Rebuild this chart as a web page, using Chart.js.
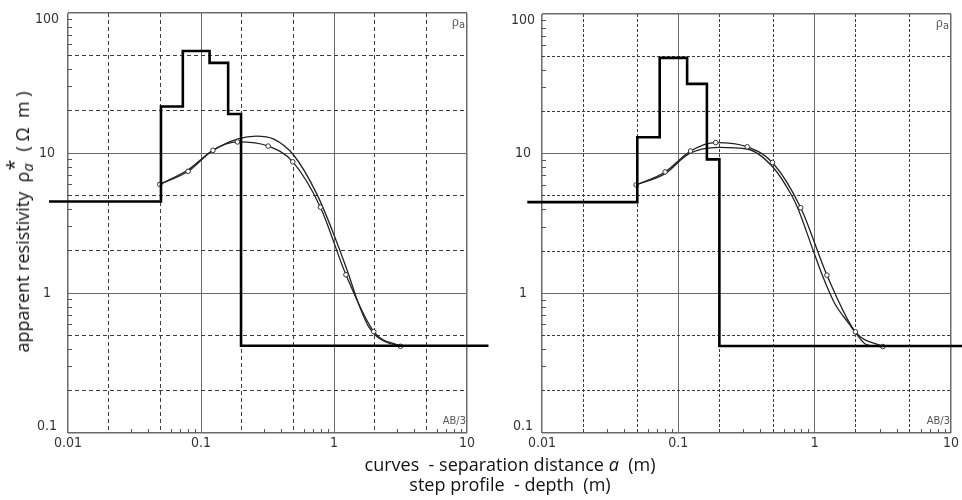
<!DOCTYPE html>
<html>
<head>
<meta charset="utf-8">
<script src="https://cdn.jsdelivr.net/npm/chart.js@4.4.1/dist/chart.umd.min.js"></script>
<style>
  body { margin: 0; background: #fff; }
  #wrap { position: relative; width: 962px; height: 500px; overflow: hidden; font-family: "Open Sans", sans-serif; color: #111; }
  #left-box { position: absolute; left: 0; top: 0; width: 500px; height: 500px; }
  #right-box { position: absolute; left: 480px; top: 0; width: 482px; height: 500px; }
  #y-title { position: absolute; left: 22px; top: 222px; transform: translate(-50%, -50%) rotate(-90deg); white-space: nowrap; font-size: 18px; }
  .sx { display: inline-block; position: relative; width: 0.6em; }
  .sx .sup { position: absolute; left: 0.05em; top: -0.5em; font-size: 1.1em; }
  .sx .sb { position: relative; top: 0.3em; font-style: italic; font-size: 0.8em; }
  .x-title { position: absolute; left: 510px; transform: translateX(-50%); white-space: nowrap; font-size: 18px; }
  #x-title-1 { top: 452px; }
  #x-title-2 { top: 472px; }
</style>
</head>
<body>
<div id="wrap">
  <div id="left-box"><canvas id="left-chart" width="500" height="500"></canvas></div>
  <div id="right-box"><canvas id="right-chart" width="482" height="500"></canvas></div>
  <div id="y-title">apparent resistivity&nbsp; ρ<span class="sx"><span class="sup">*</span><span class="sb">a</span></span>&nbsp; ( Ω&nbsp; m )</div>
  <div class="x-title" id="x-title-1">curves&nbsp; - separation distance <i>a</i>&nbsp; (m)</div>
  <div class="x-title" id="x-title-2">step profile&nbsp; - depth&nbsp; (m)</div>
</div>
<script>
// grid / tick positions
const xGridValues = [0.01, 0.02, 0.05, 0.1, 0.2, 0.5, 1, 2, 5, 10];
const yGridValues = [0.1, 0.2, 0.5, 1, 2, 5, 10, 20, 50, 100];
const minorMultiples = [3, 4, 6, 7, 8, 9];

// measured apparent resistivity (same field data in both panels)
const measuredA = [0.049, 0.08, 0.123, 0.188, 0.32, 0.49, 0.79, 1.23, 1.99, 3.16];
const measuredRho = [5.97, 7.4, 10.45, 12.0, 11.2, 8.65, 4.1, 1.35, 0.53, 0.416];

// left panel: model curve + step profile
const leftModelA = [0.049, 0.08, 0.12, 0.19, 0.26, 0.35, 0.5, 0.75, 1.0, 1.29, 1.5, 1.83, 2.4, 3.3];
const leftModelRho = [5.97, 7.6, 10.3, 12.6, 13.2, 12.6, 9.6, 5.0, 2.6, 1.35, 0.88, 0.57, 0.45, 0.42];
const leftStepDepth = [0.0072, 0.05, 0.073, 0.116, 0.16, 0.2, 14.5];
const leftStepRho = [4.5, 21.5, 53.5, 44, 19, 0.42, 0.42];

// right panel: model curve + step profile
const rightModelA = [0.049, 0.08, 0.12, 0.2, 0.32, 0.5, 0.68, 0.75, 0.98, 1.14, 1.4, 1.8, 2.0, 2.4, 3.3];
const rightModelRho = [5.97, 7.2, 10.0, 11.1, 10.8, 7.9, 5.0, 4.1, 2.0, 1.34, 0.85, 0.6, 0.52, 0.43, 0.415];
const rightStepDepth = [0.0078, 0.05, 0.073, 0.116, 0.162, 0.2, 12.2];
const rightStepRho = [4.5, 13.1, 48.5, 31.6, 9.1, 0.42, 0.42];

const toPoints = (xs, ys) => xs.map((x, i) => ({ x: x, y: ys[i] }));
const isDecade = v => Math.abs(Math.log10(v) - Math.round(Math.log10(v))) < 1e-6;

// inner minor ticks on bottom and left axes
const minorTicks = {
  id: 'minorTicks',
  beforeDatasetsDraw(chart) {
    const { ctx, chartArea, scales } = chart;
    ctx.save();
    ctx.strokeStyle = '#555';
    ctx.lineWidth = 1;
    ctx.beginPath();
    [0.01, 0.1, 1].forEach(d => minorMultiples.forEach(m => {
      const px = Math.round(scales.x.getPixelForValue(d * m)) + 0.5;
      ctx.moveTo(px, chartArea.bottom);
      ctx.lineTo(px, chartArea.bottom - 4);
    }));
    [0.1, 1, 10].forEach(d => minorMultiples.forEach(m => {
      const py = Math.round(scales.y.getPixelForValue(d * m)) + 0.5;
      ctx.moveTo(chartArea.left, py);
      ctx.lineTo(chartArea.left + 4, py);
    }));
    ctx.stroke();
    ctx.restore();
  }
};

// corner notes: rho_a and AB/3
const cornerNotes = {
  id: 'cornerNotes',
  afterDraw(chart) {
    const { ctx, chartArea } = chart;
    ctx.save();
    ctx.fillStyle = '#555';
    ctx.textAlign = 'right';
    ctx.textBaseline = 'middle';
    ctx.font = '11px "Liberation Sans Narrow", "DejaVu Sans Condensed", sans-serif';
    ctx.fillText('a', chartArea.right - 2, chartArea.top + 12);
    const aw = ctx.measureText('a').width;
    ctx.font = '12px "Liberation Sans", sans-serif';
    ctx.fillText('ρ', chartArea.right - 2 - aw, chartArea.top + 10);
    ctx.font = '11px "Liberation Sans Narrow", "DejaVu Sans Condensed", sans-serif';
    ctx.fillText('AB/3', chartArea.right - 1, chartArea.bottom - 12);
    ctx.restore();
  }
};

// edge labels are nudged inside the frame like in the original print
function tickLabel(v, min, max, axis) {
  if (!isDecade(v)) return '';
  const s = String(v);
  if (axis === 'y' && v === max) return ['', s];
  if (axis === 'y' && v === min) return [s, ''];
  return s;
}

function makeScale(axis, min, max, gridValues, opts) {
  return {
    type: 'logarithmic',
    min: min,
    max: max,
    afterBuildTicks: scale => { scale.ticks = gridValues.map(v => ({ value: v })); },
    afterFit: scale => {
      if (opts.width) scale.width = opts.width;
      if (opts.height) scale.height = opts.height;
      // keep the plot frame where layout.padding puts it
      scale.paddingTop = 0; scale.paddingBottom = 0;
      scale.paddingLeft = 0; scale.paddingRight = 0;
    },
    ticks: {
      autoSkip: false,
      maxRotation: 0,
      padding: opts.padding,
      crossAlign: 'center',
      color: '#333',
      font: { family: '"Liberation Sans Narrow", "DejaVu Sans Condensed", sans-serif', size: 14, lineHeight: 0.9 },
      callback: v => tickLabel(v, min, max, axis)
    },
    grid: {
      drawTicks: false,
      color: ctx => (ctx.tick && isDecade(ctx.tick.value)) ? '#6a6a6a' : '#3c3c3c',
      lineWidth: ctx => {
        if (!ctx.tick) return 1;
        if (ctx.tick.value === min || ctx.tick.value === max) return 1.5;
        return 1;
      }
    },
    border: {
      display: false,
      dash: ctx => (ctx.tick && !isDecade(ctx.tick.value)) ? opts.dash : []
    }
  };
}

function drawPanel(canvasId, modelA, modelRho, stepDepth, stepRho, layout) {
  const ctx = document.getElementById(canvasId).getContext('2d');
  return new Chart(ctx, {
    type: 'line',
    data: {
      datasets: [
        {
          data: toPoints(stepDepth, stepRho),
          borderColor: '#000',
          borderWidth: 2.6,
          stepped: 'before',
          pointRadius: 0,
          clip: false
        },
        {
          data: toPoints(measuredA, measuredRho),
          borderColor: '#222',
          borderWidth: 1.3,
          cubicInterpolationMode: 'monotone',
          pointRadius: 2.3,
          pointBackgroundColor: '#fff',
          pointBorderColor: '#333',
          pointBorderWidth: 1
        },
        {
          data: toPoints(modelA, modelRho),
          borderColor: '#222',
          borderWidth: 1.3,
          cubicInterpolationMode: 'monotone',
          pointRadius: 0
        }
      ]
    },
    options: {
      responsive: false,
      animation: false,
      layout: { padding: layout.padding },
      plugins: { legend: { display: false }, tooltip: { enabled: false } },
      scales: {
        x: makeScale('x', 0.01, 10, xGridValues, { height: layout.xHeight, padding: 10, dash: layout.dash }),
        y: makeScale('y', 0.1, 100, yGridValues, { width: layout.yWidth, padding: layout.yPad, dash: layout.dash })
      }
    },
    plugins: [minorTicks, cornerNotes]
  });
}

drawPanel('left-chart', leftModelA, leftModelRho, leftStepDepth, leftStepRho, {
  padding: { left: 0, right: 33, top: 13, bottom: 0 },
  xHeight: 67, yWidth: 68, yPad: 9, dash: [4, 3]
});

drawPanel('right-chart', rightModelA, rightModelRho, rightStepDepth, rightStepRho, {
  padding: { left: 0, right: 11, top: 14, bottom: 0 },
  xHeight: 67, yWidth: 62, yPad: 7, dash: [3, 2]
});
</script>
</body>
</html>
